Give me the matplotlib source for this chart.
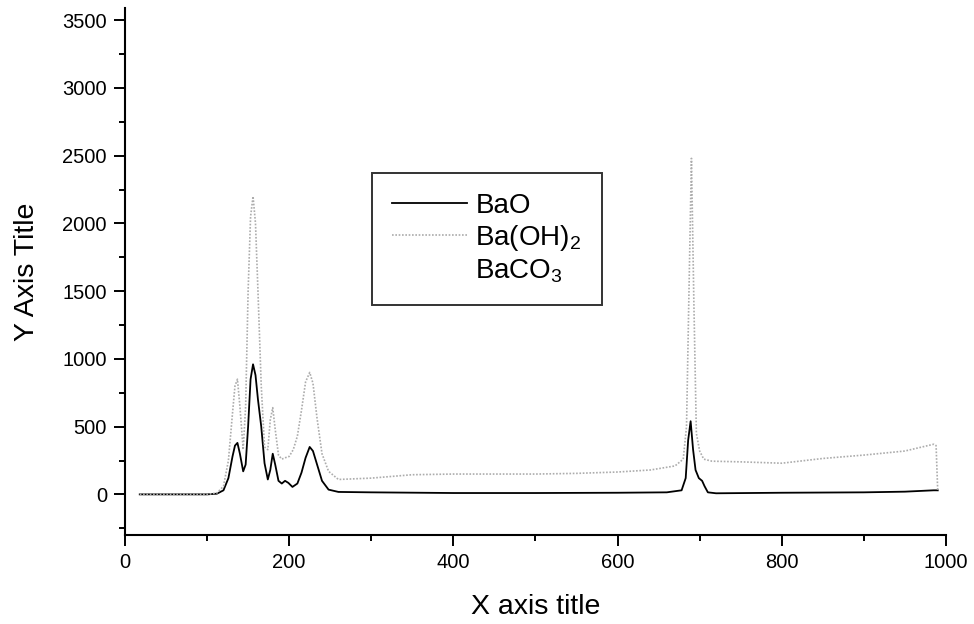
import numpy as np
import matplotlib.pyplot as plt
from matplotlib.ticker import MultipleLocator

plt.rcParams['font.family'] = ['Liberation Sans', 'DejaVu Sans']
plt.rcParams['mathtext.fontset'] = 'custom'
plt.rcParams['mathtext.rm'] = 'Liberation Sans'
plt.rcParams['mathtext.it'] = 'Liberation Sans'

# BaO (black solid line)
bao_x = [18, 60, 100, 112, 120, 126, 131, 134, 137, 140, 144, 147, 150, 153, 156, 159, 162,
         166, 170, 174, 177, 180, 183, 187, 191, 195, 199, 204, 210, 215, 220, 225, 229, 234,
         240, 248, 260, 300, 400, 500, 600, 660, 678, 683, 686, 689, 692, 695, 699, 703, 706,
         710, 720, 800, 900, 950, 985, 990]
bao_y = [0, 0, 0, 5, 30, 120, 280, 360, 380, 300, 170, 220, 500, 850, 960, 880, 700,
         500, 230, 110, 180, 300, 220, 100, 80, 100, 85, 55, 80, 160, 270, 350, 320, 220,
         100, 35, 18, 15, 10, 10, 12, 15, 30, 120, 400, 540, 330, 180, 120, 100, 60,
         15, 8, 12, 15, 20, 30, 30]

# Ba(OH)2 (grey dotted line)
bah_x = [18, 60, 100, 112, 120, 126, 131, 134, 137, 140, 144, 147, 150, 153, 156, 159, 162,
         166, 170, 174, 177, 180, 183, 187, 191, 195, 200, 205, 210, 215, 220, 225, 229, 234,
         240, 248, 260, 300, 350, 400, 450, 500, 550, 600, 640, 670, 680, 684, 687, 690, 693,
         696, 700, 705, 715, 750, 800, 850, 900, 950, 985, 988, 990]
bah_y = [0, 0, 0, 10, 60, 250, 600, 800, 850, 650, 330, 650, 1500, 2050, 2200, 2000, 1500,
         800, 350, 330, 550, 640, 480, 290, 260, 270, 280, 330, 430, 620, 830, 900, 820, 560,
         300, 170, 110, 120, 145, 150, 150, 150, 155, 165, 180, 210, 260, 500, 1500, 2480, 1400,
         450, 320, 260, 245, 240, 230, 265, 290, 320, 370, 360, 20]

# BaCO3 (no visible trace)
baco3_x = []
baco3_y = []

fig = plt.figure(figsize=(9.74, 6.24), dpi=100)
ax = fig.add_axes([0.1283, 0.1426, 0.8429, 0.8446])

ax.plot(bao_x, bao_y, color='black', lw=1.3, label='BaO')
ax.plot(bah_x, bah_y, color='#acacac', lw=1.2, ls=(0, (1, 1)), label='Ba(OH)$_2$')
ax.plot(baco3_x, baco3_y, color='white', lw=1, label='BaCO$_3$')

ax.set_xlim(0, 1000)
ax.set_ylim(-300, 3590)
ax.xaxis.set_major_locator(MultipleLocator(200))
ax.xaxis.set_minor_locator(MultipleLocator(100))
ax.yaxis.set_major_locator(MultipleLocator(500))
ax.yaxis.set_minor_locator(MultipleLocator(250))
ax.set_yticks(np.arange(0, 3501, 500))

for s in ['top', 'right']:
    ax.spines[s].set_visible(False)
for s in ['left', 'bottom']:
    ax.spines[s].set_linewidth(1.5)
ax.tick_params(which='major', direction='out', length=8, width=1.4, labelsize=14.5, pad=5)
ax.tick_params(which='minor', direction='out', length=4.5, width=1.4)

ax.set_xlabel('X axis title', fontsize=20.5, labelpad=16)
ax.set_ylabel('Y Axis Title', fontsize=20.5, labelpad=16)

leg = ax.legend(loc='upper left', bbox_to_anchor=(0.301, 0.687), fontsize=20,
                frameon=True, fancybox=False, edgecolor='black', handlelength=2.7,
                handletextpad=0.3, labelspacing=0.15, borderpad=0.72, borderaxespad=0)
leg.get_frame().set_linewidth(1.4)

fig.savefig('out.png', dpi=100)
